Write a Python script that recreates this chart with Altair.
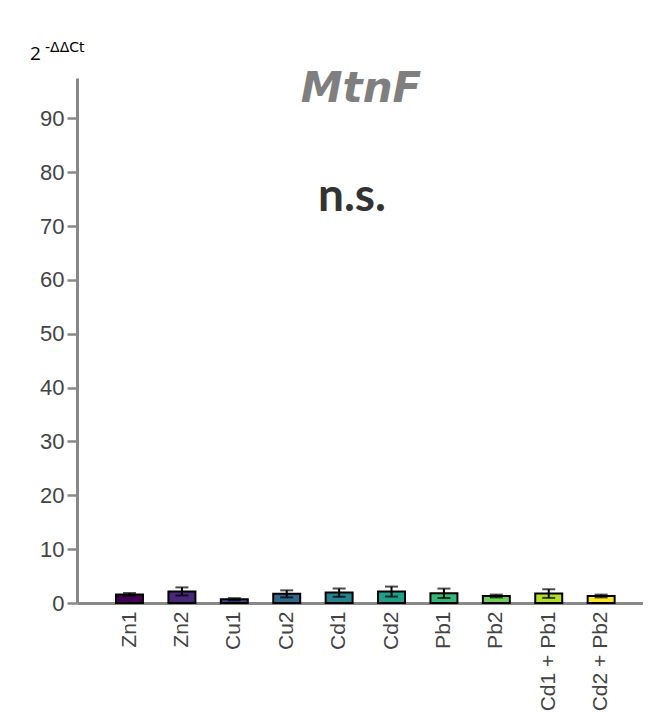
import altair as alt
import pandas as pd

samples = ["Zn1", "Zn2", "Cu1", "Cu2", "Cd1", "Cd2", "Pb1", "Pb2", "Cd1 + Pb1", "Cd2 + Pb2"]
means = [1.6, 2.15, 0.7, 1.7, 1.93, 2.12, 1.8, 1.3, 1.75, 1.3]
sds = [0.25, 0.75, 0.2, 0.65, 0.75, 0.93, 0.88, 0.26, 0.8, 0.26]
colors = ["#440154", "#482878", "#3e4a89", "#31688e", "#26828e",
          "#1f9e89", "#35b779", "#6ece58", "#b5de2b", "#fde725"]
y_ticks = [0, 10, 20, 30, 40, 50, 60, 70, 80, 90]

df = pd.DataFrame({
    "sample": samples,
    "mean": means,
    "lo": [m - s for m, s in zip(means, sds)],
    "hi": [m + s for m, s in zip(means, sds)],
})

xscale = alt.Scale(domain=samples, paddingInner=0.485, paddingOuter=0.643, align=0.579, round=False)
yscale = alt.Scale(domain=[0, 97.5], nice=False, zero=True)

x_enc = alt.X("sample:N", sort=samples, scale=xscale,
              axis=alt.Axis(title=None, labelAngle=270, ticks=False, labelPadding=8))
y_axis = alt.Axis(title=None, values=y_ticks, grid=False)

base = alt.Chart(df)

bars = base.mark_bar(stroke="black", strokeWidth=2).encode(
    x=x_enc,
    y=alt.Y("mean:Q", scale=yscale, axis=y_axis),
    color=alt.Color("sample:N", scale=alt.Scale(domain=samples, range=colors), legend=None),
)

err = base.mark_rule(color="black", strokeWidth=2).encode(
    x=alt.X("sample:N", sort=samples, scale=xscale),
    y=alt.Y("lo:Q", scale=yscale),
    y2="hi:Q",
)
cap_hi = base.mark_tick(color="black", thickness=2, size=13).encode(
    x=alt.X("sample:N", sort=samples, scale=xscale),
    y=alt.Y("hi:Q", scale=yscale),
)
cap_lo = base.mark_tick(color="black", thickness=2, size=13).encode(
    x=alt.X("sample:N", sort=samples, scale=xscale),
    y=alt.Y("lo:Q", scale=yscale),
)

def label(txt, x, y, size, font, weight="normal", style="normal", color="black", align="left"):
    return alt.Chart(pd.DataFrame({"t": [txt]})).mark_text(
        font=font, fontSize=size, fontWeight=weight, fontStyle=style,
        color=color, align=align, baseline="alphabetic",
    ).encode(text="t:N", x=alt.value(x), y=alt.value(y))

title = label("MtnF", 284, 24, 42, "DejaVu Sans", "bold", "italic", "#7f7f7f", "center")
ns = label("n.s.", 275, 133, 46, "Lato", "bold", "normal", "#333333", "center")
two = label("2", -47, -18, 19, "Open Sans")
sup = label("-ΔΔCt", -32, -26, 14, "DejaVu Sans")

chart = alt.layer(bars, err, cap_hi, cap_lo, title, ns, two, sup).properties(
    width=566, height=525,
    autosize=alt.AutoSizeParams(type="none"),
    padding={"left": 69, "top": 70, "right": 0, "bottom": 112},
).configure_view(stroke=None).configure_axis(
    domainColor="#888888", domainWidth=3,
    tickColor="#888888", tickWidth=2.5, tickSize=10,
    labelFont="Liberation Sans", labelFontSize=22, labelColor="#444444",
    labelPadding=3,
).configure_axisX(labelPadding=8, labelFontSize=21)

chart.save("out.html", embed_options={"renderer": "svg", "actions": False})
